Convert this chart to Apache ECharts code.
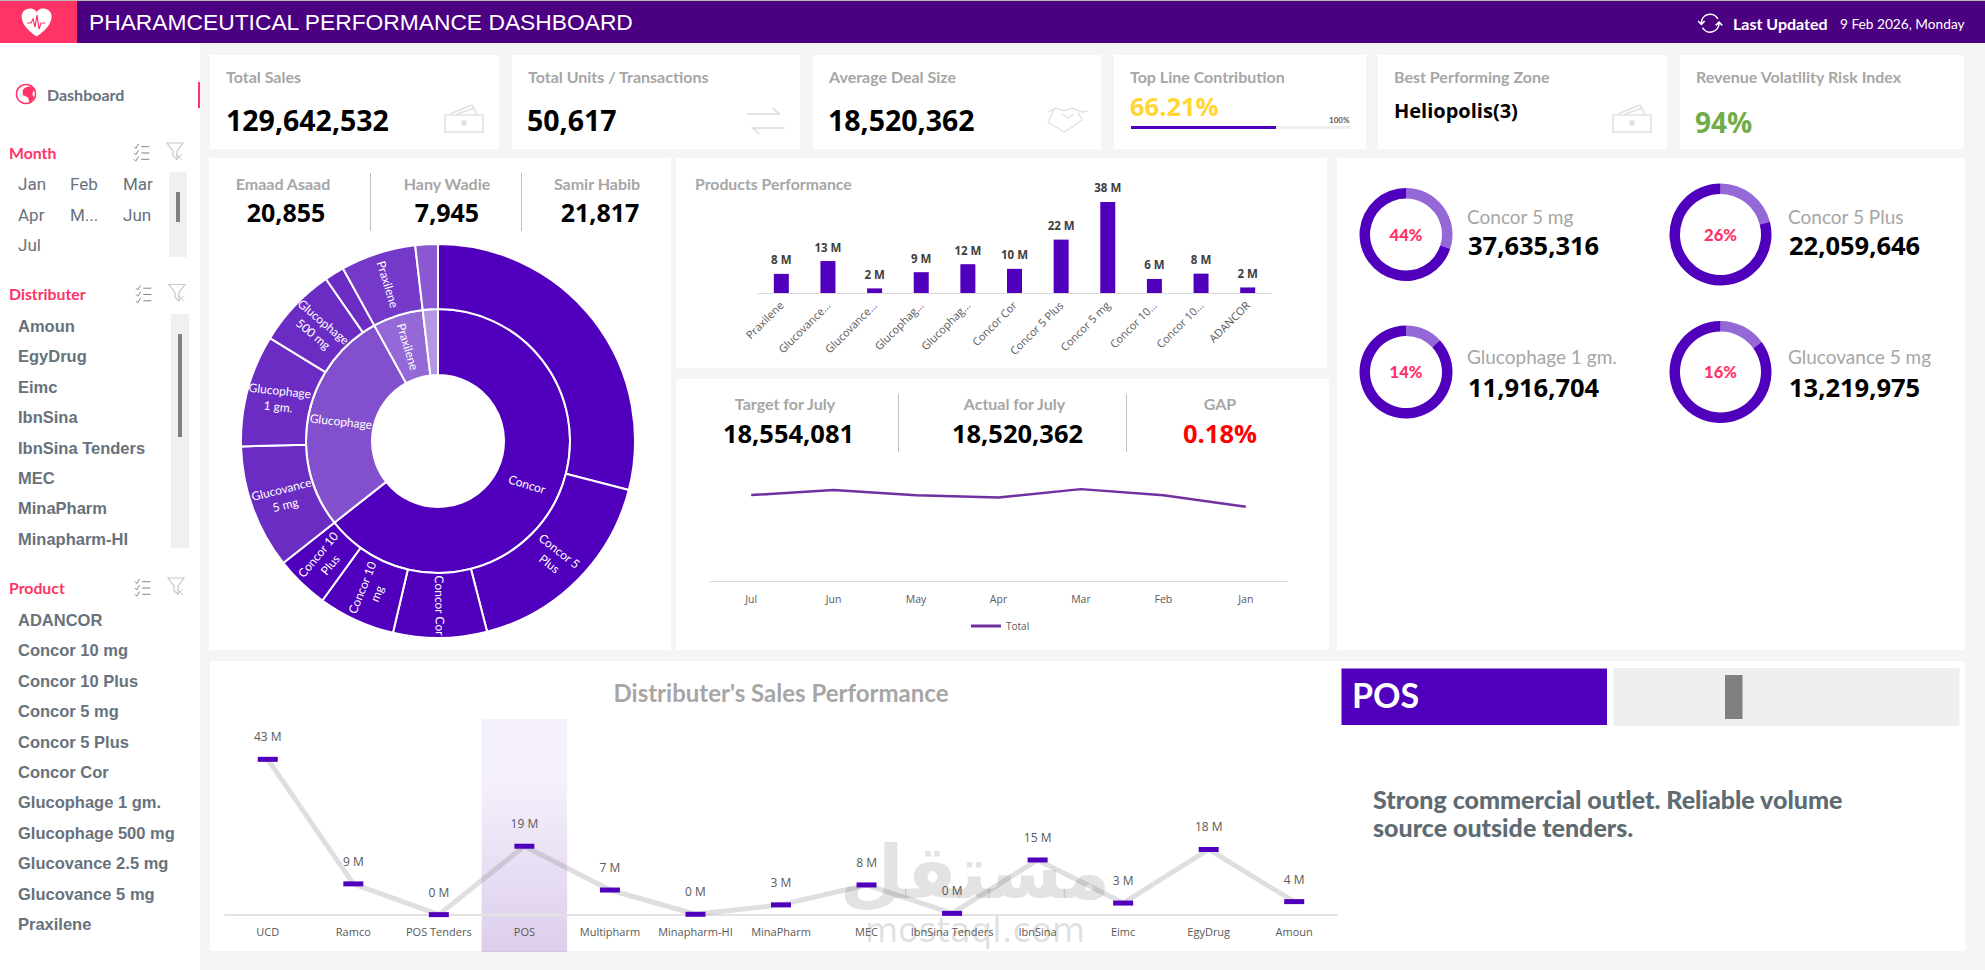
<!DOCTYPE html>
<html>
<head>
<meta charset="utf-8">
<title>Pharmaceutical Performance Dashboard</title>
<script src="https://cdn.jsdelivr.net/npm/echarts@6/dist/echarts.min.js"></script>
<style>
html, body { margin: 0; padding: 0; background: #f5f5f5; overflow: hidden; }
#main { width: 1985px; height: 970px; }
</style>
</head>
<body>
<div id="main"></div>
<script>
// data (sales in millions unless noted)
var monthItems = ['Jan', 'Feb', 'Mar', 'Apr', 'M...', 'Jun', 'Jul'];
var distributerItems = ['Amoun', 'EgyDrug', 'Eimc', 'IbnSina', 'IbnSina Tenders', 'MEC', 'MinaPharm', 'Minapharm-HI'];
var productItems = ['ADANCOR', 'Concor 10 mg', 'Concor 10 Plus', 'Concor 5 mg', 'Concor 5 Plus', 'Concor Cor', 'Glucophage 1 gm.', 'Glucophage 500 mg', 'Glucovance 2.5 mg', 'Glucovance 5 mg', 'Praxilene'];

var repNames = ['Emaad Asaad', 'Hany Wadie', 'Samir Habib'];
var repUnits = ['20,855', '7,945', '21,817'];

var concorNames = ['Concor 5 mg', 'Concor 5\nPlus', 'Concor Cor', 'Concor 10\nmg', 'Concor 10\nPlus'];
var concorSales = [37.64, 22.06, 9.97, 8.2, 5.7];
var glucoNames = ['Glucovance\n5 mg', 'Glucophage\n1 gm.', 'Glucophage\n500 mg', ''];
var glucoSales = [13.22, 11.92, 8.6, 2.1];
var praxNames = ['Praxilene'];
var praxSales = [8];
var adanNames = [''];
var adanSales = [2.4];

var productCats = ['Praxilene', 'Glucovance...', 'Glucovance...', 'Glucophag...', 'Glucophag...', 'Concor Cor', 'Concor 5 Plus', 'Concor 5 mg', 'Concor 10...', 'Concor 10...', 'ADANCOR'];
var productSales = [7.9, 13.2, 1.9, 8.6, 11.9, 9.97, 22.06, 37.64, 5.8, 8, 2.3];

var monthCats = ['Jul', 'Jun', 'May', 'Apr', 'Mar', 'Feb', 'Jan'];
var monthSales = [18.52, 19.6, 18.47, 18, 19.8, 18.5, 16];

var distCats = ['UCD', 'Ramco', 'POS Tenders', 'POS', 'Multipharm', 'Minapharm-HI', 'MinaPharm', 'MEC', 'IbnSina Tenders', 'IbnSina', 'Eimc', 'EgyDrug', 'Amoun'];
var distSales = [43, 8.6, 0.1, 19, 6.9, 0.2, 2.8, 8.3, 0.45, 15.2, 3.3, 18.1, 3.7];
var selectedDist = 'POS';

var ringNames = ['Concor 5 mg', 'Concor 5 Plus', 'Glucophage 1 gm.', 'Glucovance 5 mg'];
var ringValues = ['37,635,316', '22,059,646', '11,916,704', '13,219,975'];
var ringLabels = ['44%', '26%', '14%', '16%'];
var ringShares = [30, 21, 13, 15];

var PURPLE = '#5000bd', PINK = '#ff3366', GREY = '#a6a6a6', SLATE = '#67727c';

var myChart = echarts.init(document.getElementById('main'), null, { renderer: 'svg' });
var els = [];
var iconCount = 0;

function box(x, y, w, h, fill, z) {
	els.push({ type: 'rect', shape: { x: x, y: y, width: w, height: h }, style: { fill: fill }, silent: true, z: z || 0 });
}
function txt(x, y, s, size, color, weight, family, align, z) {
	els.push({
		type: 'text', x: x, y: y, silent: true, z: z || 1,
		style: {
			text: s, fill: color, fontSize: size, fontWeight: weight || 400,
			fontFamily: family || 'Lato', align: align || 'left', textAlign: align || 'left',
			verticalAlign: 'middle', textVerticalAlign: 'middle'
		}
	});
}
// small icons: svg path registered as a shape, moved and scaled as an element
function icon(d, x, y, scale, color, lw, fill) {
	var name = 'icon' + (iconCount++);
	echarts.graphic.registerShape(name, echarts.graphic.extendPath(d));
	els.push({
		type: name, silent: true, z: 1, x: x, y: y, scaleX: scale, scaleY: scale,
		style: { fill: fill || 'none', stroke: color, lineWidth: lw || 1 }
	});
}

// page
box(0, 0, 1985, 970, '#f5f5f5');
box(0, 0, 200, 970, '#ffffff');
box(0, 0, 1985, 43, '#4b0082');
box(0, 0, 1985, 1, '#b8b8b8', 1);
box(0, 1, 77, 42, PINK, 1);
icon('M12 22C12 22 1 15.4 1 7.5A5.8 5.8 0 0 1 12 5A5.8 5.8 0 0 1 23 7.5C23 15.4 12 22 12 22Z', 21, 7, 1.3, '#ffffff', 1, '#ffffff');
icon('M0 8L4 8L6 4L8 12L10 0L12 14L14 8L18 8', 27, 15, 1, PINK, 1.2);
txt(89, 21.5, 'PHARAMCEUTICAL PERFORMANCE DASHBOARD', 22.8, '#ffffff', 400, 'Liberation Sans');
icon('M4 12A8 8 0 0 1 19 8M20 12A8 8 0 0 1 5 16M1 10L4 13L7 10M17 14L20 11L23 14', 1697, 10, 1.1, '#ffffff', 1.4);
txt(1733, 23, 'Last Updated', 16, '#ffffff', 700);
txt(1840, 23, '9 Feb 2026, Monday', 13.7, '#ffffff', 400);

// kpi cards
var kpiX = [210, 512, 813, 1114, 1378, 1680];
var kpiW = [289, 288, 288, 252, 289, 284];
var kpiTitles = ['Total Sales', 'Total Units / Transactions', 'Average Deal Size', 'Top Line Contribution', 'Best Performing Zone', 'Revenue Volatility Risk Index'];
for (var i = 0; i < 6; i++) {
	box(kpiX[i], 55, kpiW[i], 94, '#ffffff');
	txt(kpiX[i] + 16, 76, kpiTitles[i], 16, GREY, 700);
}
txt(226, 120, '129,642,532', 28.5, '#000000', 700, 'Open Sans');
txt(527, 120, '50,617', 28.5, '#000000', 700, 'Open Sans');
txt(828, 120, '18,520,362', 28.5, '#000000', 700, 'Open Sans');
txt(1130, 106, '66.21%', 25.5, '#ffd633', 700, 'Open Sans');
box(1131, 126, 220, 3, '#eeeeee', 1);
box(1131, 126, 145, 3, PURPLE, 2);
txt(1329, 120, '100%', 8, '#595959', 700);
txt(1394, 110, 'Heliopolis(3)', 20, '#000000', 700, 'Open Sans');
txt(1695, 122, '94%', 28, '#70ad47', 700, 'Open Sans');

function moneyIcon(x) {
	var c = '#e2e2e2';
	icon('M0 10H38V27H0ZM5 9L27 0L32 9M12 9L30 3', x, 105, 1, c, 1.6);
	els.push({ type: 'circle', silent: true, z: 1, shape: { cx: x + 19, cy: 123, r: 3 }, style: { fill: c } });
}
moneyIcon(445);
moneyIcon(1613);
icon('M0 6H32L26 0M38 20H6L12 26', 747, 108, 1, '#dcdcdc', 1.6);
icon('M0 6L8 2L16 5L24 2L34 6L40 5M6 4L0 16L16 26L20 24L34 14L30 6M14 8L20 12L26 8', 1048, 106, 1, '#e2e2e2', 1.4);

// sidebar
els.push({ type: 'circle', silent: true, z: 1, shape: { cx: 26, cy: 94, r: 9.5 }, style: { fill: '#ffffff', stroke: PINK, lineWidth: 1.5 } });
icon('M3 4C6 0 12 0 14 3L12 8L14 12L10 17L8 11L3 9Z', 20, 86, 1, PINK, 0.5, PINK);
txt(47, 94, 'Dashboard', 16, SLATE, 700);
box(198, 82, 2, 26, PINK, 1);

function slicerHead(y, title, listX, filterX) {
	txt(9, y, title, 15.8, PINK, 700);
	icon('M0 3L2 5L5 0M0 10L2 12L5 7M0 17L2 19L5 14M8 3H17M8 10H17M8 17H17', listX - 8, y - 8, 0.9, '#777777', 1);
	icon('M0 0H16L10 8V16L6 13V8Z', filterX - 8, y - 9, 1, '#c8c8c8', 1.2);
	icon('M0 0L6 6M6 0L0 6', filterX + 1, y + 2, 1, '#c8c8c8', 1);
}
slicerHead(152, 'Month', 142, 175);
var monthColX = [18, 70, 123];
var monthRowY = [184, 215, 245];
monthItems.forEach(function (m, k) {
	txt(monthColX[k % 3], monthRowY[Math.floor(k / 3)], m, 17, SLATE, 400, 'Roboto');
});
box(169, 172, 18, 85, '#f0f0f0', 1);
box(176, 192, 4, 30, '#808080', 2);

slicerHead(293.5, 'Distributer', 144, 177);
distributerItems.forEach(function (d, k) {
	txt(18, 326 + k * 30.4, d, 16.5, SLATE, 700, 'Liberation Sans');
});
box(171, 314, 18, 234, '#f0f0f0', 1);
box(178, 334, 4, 103, '#808080', 2);

slicerHead(587, 'Product', 143, 176);
productItems.forEach(function (p, k) {
	txt(18, 620 + k * 30.4, p, 16.5, SLATE, 700, 'Liberation Sans');
});

// panels
box(209, 158, 462, 492, '#ffffff');
box(676, 158, 651, 210, '#ffffff');
box(676, 379, 653, 271, '#ffffff');
box(1337, 158, 628, 492, '#ffffff');
box(210, 661, 1755, 290, '#ffffff');

var repX = [283, 447, 597];
var repValX = [286, 447, 600];
repNames.forEach(function (n, k) {
	txt(repX[k], 183, n, 16, GREY, 700, 'Lato', 'center');
	txt(repValX[k], 212, repUnits[k], 25, '#000000', 700, 'Open Sans', 'center');
});
box(370, 173, 1, 58, '#bfbfbf', 1);
box(521, 173, 1, 58, '#bfbfbf', 1);

txt(695, 183.5, 'Products Performance', 15.8, GREY, 700);

txt(785, 403.5, 'Target for July', 16, GREY, 700, 'Lato', 'center');
txt(1014.5, 403, 'Actual for July', 16, GREY, 700, 'Lato', 'center');
txt(1220, 403, 'GAP', 16, GREY, 700, 'Lato', 'center');
txt(788.5, 433, '18,554,081', 25.5, '#000000', 700, 'Open Sans', 'center');
txt(1017.5, 433, '18,520,362', 25.5, '#000000', 700, 'Open Sans', 'center');
txt(1220, 433, '0.18%', 25.5, '#ff0000', 700, 'Open Sans', 'center');
box(898, 394, 1, 58, '#bfbfbf', 1);
box(1126, 394, 1, 58, '#bfbfbf', 1);

var ringCx = [1406, 1720.5, 1406, 1720.5];
var ringCy = [234.5, 234.5, 372, 372];
var ringOuter = [46.5, 51, 46.5, 51];
var ringNameX = [1467, 1788, 1467, 1788];
var ringNameY = [216, 216, 356, 356];
var ringValY = [245, 245, 387, 387];
ringNames.forEach(function (n, k) {
	txt(ringNameX[k], ringNameY[k], n, 19, GREY, 400, 'Lato');
	txt(ringNameX[k] + 1, ringValY[k], ringValues[k], 25.5, '#000000', 700, 'Open Sans');
});

txt(781, 692.5, "Distributer's Sales Performance", 24, GREY, 700, 'Lato', 'center');

box(1341.5, 668.5, 265.5, 56.5, PURPLE, 1);
txt(1352, 694, 'POS', 34, '#ffffff', 700, 'Lato');
box(1613.5, 668, 346, 58, '#efefef', 1);
box(1725, 675, 17.5, 44, '#808080', 2);
txt(1373, 799, 'Strong commercial outlet. Reliable volume', 25, '#5f6b73', 900, 'Lato');
txt(1373, 827, 'source outside tenders.', 25, '#5f6b73', 900, 'Lato');

// sunburst tree
var labelRotate = {
	'Concor': -17, 'Glucophage': -6, 'Praxilene': -73,
	'Concor 5 mg': 0, 'Concor 5\nPlus': -38, 'Concor Cor': -89, 'Concor 10\nmg': 68, 'Concor 10\nPlus': 50,
	'Glucovance\n5 mg': 14, 'Glucophage\n1 gm.': -6, 'Glucophage\n500 mg': -40
};
function node(name, value, color) {
	var hide = name === '' || name === 'Concor 5 mg';
	return {
		name: name, value: value,
		itemStyle: { color: color },
		label: { show: !hide, rotate: labelRotate[name] || 0 }
	};
}
function group(name, names, sales, innerColor, outerColor) {
	var g = node(name, undefined, innerColor);
	delete g.value;
	g.children = names.map(function (n, k) { return node(n, sales[k], outerColor); });
	return g;
}
var tree = [
	group('Concor', concorNames, concorSales, PURPLE, PURPLE),
	group('Glucophage', glucoNames, glucoSales, '#8350cd', '#6b2cc4'),
	group('Praxilene', praxNames, praxSales, '#9468d6', '#7439c8'),
	group('', adanNames, adanSales, '#b497e2', '#8a58d2')
];

var series = [
	{
		type: 'sunburst', center: [438, 441], radius: [66, 197], sort: null, nodeClick: false,
		data: tree, z: 3,
		itemStyle: { borderColor: '#ffffff', borderWidth: 2 },
		label: { color: '#ffffff', fontSize: 12, fontFamily: 'Lato', align: 'center', lineHeight: 16 },
		emphasis: { disabled: true },
		levels: [{}, { r0: 66, r: 132 }, { r0: 132, r: 197 }]
	},
	{
		type: 'bar', name: 'Products', xAxisIndex: 0, yAxisIndex: 0, data: productSales, barWidth: 15,
		itemStyle: { color: PURPLE }, z: 3,
		label: {
			show: true, position: 'top', distance: 8, color: '#404040', fontSize: 11.5, fontWeight: 700, fontFamily: 'Open Sans',
			formatter: function (p) { return Math.round(p.value) + ' M'; }
		}
	},
	{
		type: 'line', name: 'Total', xAxisIndex: 1, yAxisIndex: 1, data: monthSales, symbol: 'none', z: 3,
		lineStyle: { color: '#7030a0', width: 2.5 }, itemStyle: { color: '#7030a0' }
	},
	{
		type: 'bar', name: 'Selected', xAxisIndex: 2, yAxisIndex: 2, barWidth: '100%', z: 1,
		data: distCats.map(function (c) { return c === selectedDist ? 1 : null; }),
		itemStyle: {
			// see-through so the line and the axis still show in the band
			color: new echarts.graphic.LinearGradient(0, 0, 0, 1, [
				{ offset: 0, color: 'rgba(110,50,200,0.07)' }, { offset: 0.25, color: 'rgba(110,50,200,0.07)' }, { offset: 1, color: 'rgba(110,50,170,0.24)' }
			])
		}
	},
	{
		type: 'line', name: 'Distributer', xAxisIndex: 3, yAxisIndex: 3, data: distSales, z: 5,
		symbol: 'rect', symbolSize: [20, 5], lineStyle: { color: 'rgba(110,110,110,0.22)', width: 5 },
		itemStyle: { color: PURPLE },
		label: {
			show: true, position: 'top', distance: 14, color: '#595959', fontSize: 12, fontFamily: 'Open Sans',
			formatter: function (p) { return Math.round(p.value) + ' M'; }
		}
	}
];
ringShares.forEach(function (s, k) {
	series.push({
		type: 'pie', center: [ringCx[k], ringCy[k]], radius: [ringOuter[k] - 10.5, ringOuter[k]], z: 3,
		silent: true, startAngle: 90, clockwise: true,
		label: { show: false }, labelLine: { show: false }, emphasis: { disabled: true },
		data: [
			{
				value: s, name: ringNames[k], itemStyle: { color: '#9468d6' },
				label: { show: true, position: 'center', formatter: ringLabels[k], color: PINK, fontSize: 16.5, fontWeight: 900, fontFamily: 'Lato' }
			},
			{ value: 100 - s, name: 'rest', itemStyle: { color: PURPLE } }
		]
	});
});

// watermark sits over the chart
var watermark = [
	{ type: 'text', x: 975, y: 872, silent: true, z: 10, style: { text: 'مستقل', fill: 'rgba(60,60,60,0.14)', fontSize: 74, fontWeight: 700, fontFamily: 'DejaVu Sans', align: 'center', textAlign: 'center', verticalAlign: 'middle', textVerticalAlign: 'middle' } },
	{ type: 'text', x: 975, y: 930, silent: true, z: 10, style: { text: 'mostaql.com', fill: 'rgba(60,60,60,0.16)', fontSize: 34, fontWeight: 400, fontFamily: 'DejaVu Sans', align: 'center', textAlign: 'center', verticalAlign: 'middle', textVerticalAlign: 'middle' } }
];

var option = {
	animation: false,
	backgroundColor: '#f5f5f5',
	graphic: { elements: els.concat(watermark) },
	legend: {
		data: ['Total'], left: 966, top: 616, icon: 'rect', itemWidth: 30, itemHeight: 3, itemGap: 2,
		selectedMode: false, textStyle: { color: '#595959', fontSize: 10, fontFamily: 'Open Sans' }
	},
	grid: [
		{ left: 758, width: 513, top: 196.2, height: 96.8 },
		{ left: 710, width: 577, top: 465, height: 116 },
		{ left: 225, width: 1112, top: 719, height: 233 },
		{ left: 225, width: 1112, top: 734, height: 181 }
	],
	xAxis: [
		{
			gridIndex: 0, type: 'category', data: productCats, axisTick: { show: false },
			axisLine: { lineStyle: { color: '#d9d9d9' } },
			axisLabel: { interval: 0, rotate: 45, color: '#595959', fontSize: 11, fontFamily: 'Open Sans', margin: 10 }
		},
		{
			gridIndex: 1, type: 'category', data: monthCats, axisTick: { show: false },
			axisLine: { lineStyle: { color: '#d9d9d9' } },
			axisLabel: { color: '#595959', fontSize: 10.5, fontFamily: 'Open Sans', margin: 12 }
		},
		{ gridIndex: 2, type: 'category', data: distCats, show: false },
		{
			gridIndex: 3, type: 'category', data: distCats, axisTick: { show: false }, z: 4,
			axisLine: { lineStyle: { color: '#e3e3e3', width: 2 } },
			axisLabel: { interval: 0, color: '#595959', fontSize: 11, fontFamily: 'Open Sans', margin: 11 }
		}
	],
	yAxis: [
		{ gridIndex: 0, type: 'value', min: 0, max: 40, show: false },
		{ gridIndex: 1, type: 'value', min: 0, max: 25, show: false },
		{ gridIndex: 2, type: 'value', min: 0, max: 1, show: false },
		{ gridIndex: 3, type: 'value', min: 0, max: 50, show: false }
	],
	series: series
};

myChart.setOption(option);
</script>
</body>
</html>
